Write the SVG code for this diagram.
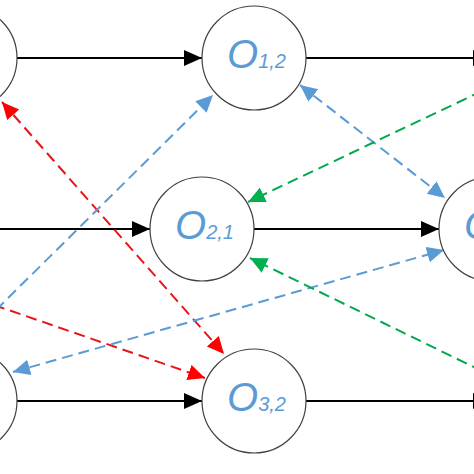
<svg xmlns="http://www.w3.org/2000/svg" width="474" height="474" viewBox="0 0 474 474">
<style>
.node{fill:#ffffff;stroke:#404040;stroke-width:1.2}
.lbl{font-family:"Liberation Sans",Arial,sans-serif;font-style:italic;fill:#5B9BD5}
.big{font-size:40px}
.sub{font-size:20px}
.solid{stroke:#000;stroke-width:2;fill:none}
.red{stroke:#E8141B;stroke-width:2;fill:none;stroke-dasharray:11 6}
.blue{stroke:#5B9BD5;stroke-width:2;fill:none;stroke-dasharray:11 6}
.green{stroke:#00A84F;stroke-width:2;fill:none;stroke-dasharray:11 6}
</style>
<defs>
<marker id="ab" markerUnits="userSpaceOnUse" markerWidth="19" markerHeight="17" refX="18" refY="8" orient="auto"><path d="M0,0 L18,8 L0,16 z" fill="#000"/></marker>
<marker id="ar" markerUnits="userSpaceOnUse" markerWidth="18" markerHeight="17" refX="17" refY="8" orient="auto-start-reverse"><path d="M0,0 L17,8 L0,16 z" fill="#FF0000"/></marker>
<marker id="abl" markerUnits="userSpaceOnUse" markerWidth="18" markerHeight="17" refX="17" refY="8" orient="auto-start-reverse"><path d="M0,0 L17,8 L0,16 z" fill="#5B9BD5"/></marker>
<marker id="ag" markerUnits="userSpaceOnUse" markerWidth="18" markerHeight="17" refX="17" refY="8" orient="auto-start-reverse"><path d="M0,0 L17,8 L0,16 z" fill="#00B050"/></marker>
</defs>
<rect width="474" height="474" fill="#ffffff"/>
<g id="connectors">
<line class="solid" x1="17" y1="58" x2="202" y2="58" marker-end="url(#ab)"/>
<line class="solid" x1="306" y1="58" x2="491" y2="58" marker-end="url(#ab)"/>
<line class="solid" x1="-35" y1="229" x2="150" y2="229" marker-end="url(#ab)"/>
<line class="solid" x1="254" y1="229" x2="439" y2="229" marker-end="url(#ab)"/>
<line class="solid" x1="17" y1="401" x2="202" y2="401" marker-end="url(#ab)"/>
<line class="solid" x1="306" y1="401" x2="491" y2="401" marker-end="url(#ab)"/>
<line class="red" x1="2" y1="102" x2="224" y2="354" marker-start="url(#ar)" marker-end="url(#ar)"/>
<line class="red" x1="-6" y1="305" x2="205" y2="378" marker-end="url(#ar)"/>
<line class="blue" x1="-4" y1="310" x2="213" y2="95" marker-end="url(#abl)"/>
<line class="blue" x1="300" y1="85" x2="445" y2="198" marker-start="url(#abl)" marker-end="url(#abl)"/>
<line class="blue" x1="13" y1="372" x2="444" y2="250" marker-start="url(#abl)" marker-end="url(#abl)"/>
<line class="green" x1="482" y1="91" x2="248" y2="202" marker-end="url(#ag)"/>
<line class="green" x1="482" y1="371" x2="250" y2="258" marker-end="url(#ag)"/>
</g>
<g id="O11"><circle class="node" cx="-35" cy="58" r="52"/></g>
<g id="O12"><circle class="node" cx="254" cy="58" r="52"/><text class="lbl" x="227" y="68"><tspan class="big">O</tspan><tspan class="sub">1,2</tspan></text></g>
<g id="O21"><circle class="node" cx="202" cy="229" r="52"/><text class="lbl" x="175" y="239"><tspan class="big">O</tspan><tspan class="sub">2,1</tspan></text></g>
<g id="O22"><circle class="node" cx="491" cy="229" r="52"/><text class="lbl" x="464" y="239"><tspan class="big">O</tspan><tspan class="sub">2,2</tspan></text></g>
<g id="O31"><circle class="node" cx="-35" cy="401" r="52"/></g>
<g id="O32"><circle class="node" cx="254" cy="401" r="52"/><text class="lbl" x="227" y="411"><tspan class="big">O</tspan><tspan class="sub">3,2</tspan></text></g>
</svg>
